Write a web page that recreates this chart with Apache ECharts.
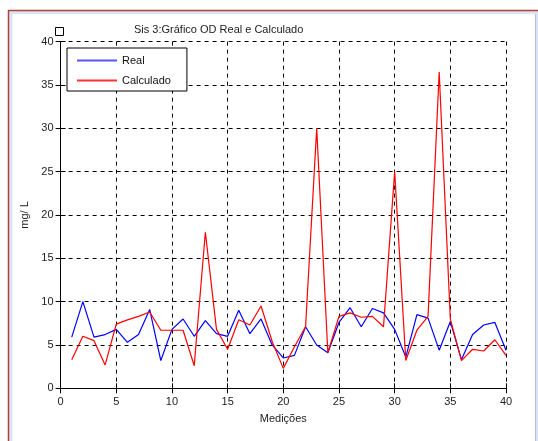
<!DOCTYPE html>
<html><head><meta charset="utf-8">
<script src="https://cdn.jsdelivr.net/npm/echarts@6/dist/echarts.min.js"></script>
<style>html,body{margin:0;padding:0;background:#fff}#c{width:538px;height:441px}</style>
</head><body><div id="c"></div>
<script>
const medicoes = [1,2,3,4,5,6,7,8,9,10,11,12,13,14,15,16,17,18,19,20,21,22,23,24,25,26,27,28,29,30,31,32,33,34,35,36,37,38,39,40];
const real = [5.9,10.0,5.9,6.2,6.8,5.3,6.2,9.1,3.2,6.8, 8.0,6.0,7.8,6.3,6.0,9.0,6.3,8.0,5.0,3.5, 3.8,7.1,5.0,4.1,7.6,9.3,7.1,9.2,8.7,6.8, 3.6,8.5,8.1,4.4,7.7,3.3,6.2,7.3,7.6,4.4];
const calculado = [3.3,6.0,5.5,2.7,7.4,7.9,8.3,8.8,6.7,6.7, 6.7,2.6,18.0,6.8,4.5,7.9,7.3,9.5,5.4,2.3, 4.8,7.1,30.0,4.1,8.3,8.7,8.2,8.3,7.1,25.0, 3.2,6.7,8.3,36.5,8.0,3.2,4.5,4.3,5.6,3.8];
const ticks = [0,5,10,15,20,25,30,35,40];

const FONT = 'Liberation Sans';
const chart = echarts.init(document.getElementById('c'), null, {renderer:'canvas'});
const gridLeft = 60.6, gridRight = 32, gridTop = 41.6, gridBottom = 52.7;
const axisCommon = {
  type:'value', min:ticks[0], max:ticks[ticks.length-1], interval:ticks[1]-ticks[0],
  axisLine:{show:true, lineStyle:{color:'#000', width:1}},
  axisTick:{show:true, inside:true, length:5, lineStyle:{color:'#000'}},
};
chart.setOption({
  animation:false,
  backgroundColor:'#fff',
  title:{text:'Sis 3:Gráfico OD Real e Calculado', left:129, top:19,
    textStyle:{fontFamily:FONT, fontSize:11, fontWeight:'normal', color:'#222'}},
  legend:{
    left:67, top:48, orient:'vertical', padding:[6,16,4,10], itemGap:7,
    itemWidth:40, itemHeight:2, icon:'rect',
    borderColor:'#000', borderWidth:1, backgroundColor:'#fff',
    textStyle:{fontFamily:FONT, fontSize:11, color:'#111', lineHeight:13},
    data:['Real','Calculado']
  },
  grid:{left:gridLeft, right:gridRight, top:gridTop, bottom:gridBottom, containLabel:false},
  xAxis:[
    Object.assign({}, axisCommon, {
      position:'bottom', name:'Medições', nameLocation:'middle', nameGap:25,
      nameTextStyle:{fontFamily:FONT, fontSize:11, color:'#222'},
      axisLabel:{fontFamily:FONT, fontSize:11, color:'#222', margin:8},
      splitLine:{show:true, lineStyle:{color:'#000', type:[4,4], width:1}}
    }),
    Object.assign({}, axisCommon, {position:'top', axisLabel:{show:false}, splitLine:{show:false}})
  ],
  yAxis:[
    Object.assign({}, axisCommon, {
      position:'left', name:'mg/ L', nameLocation:'middle', nameGap:23, nameRotate:90,
      nameTextStyle:{fontFamily:FONT, fontSize:11, color:'#222'},
      axisLabel:{fontFamily:FONT, fontSize:11, color:'#222', margin:7},
      splitLine:{show:true, lineStyle:{color:'#000', type:[4,4], width:1}}
    }),
    Object.assign({}, axisCommon, {position:'right', axisLabel:{show:false}, splitLine:{show:false}})
  ],
  series:[
    {name:'Real', type:'line', xAxisIndex:0, yAxisIndex:0, symbol:'none', showSymbol:false,
     lineStyle:{color:'#0000ff', width:1.2}, itemStyle:{color:'#5555ff'},
     data:medicoes.map((x,i)=>[x, real[i]]), z:3},
    {name:'Calculado', type:'line', xAxisIndex:0, yAxisIndex:0, symbol:'none', showSymbol:false,
     lineStyle:{color:'#ff0000', width:1.2}, itemStyle:{color:'#ff3333'},
     data:medicoes.map((x,i)=>[x, calculado[i]]), z:4}
  ],
  graphic:[
    {type:'rect', z:-10, silent:true, shape:{x:8, y:10, width:540, height:440}, style:{fill:'#d8e4f3'}},
    {type:'rect', z:-9, silent:true, shape:{x:12.5, y:14, width:522.5, height:440}, style:{fill:'#fff'}},
    {type:'line', z:-8, silent:true, shape:{x1:8.5, y1:10, x2:8.5, y2:441}, style:{stroke:'#b0413c', lineWidth:1.5}},
    {type:'line', z:-8, silent:true, shape:{x1:8, y1:10.5, x2:538, y2:10.5}, style:{stroke:'#b0413c', lineWidth:1.5}},
    {type:'line', z:-8, silent:true, shape:{x1:535.5, y1:14, x2:535.5, y2:441}, style:{stroke:'#b9c3cf', lineWidth:1}},
    {type:'rect', z:100, silent:true, shape:{x:55.5, y:27.5, width:8, height:8}, style:{fill:'#fff', stroke:'#000', lineWidth:1}}
  ]
});
</script></body></html>
